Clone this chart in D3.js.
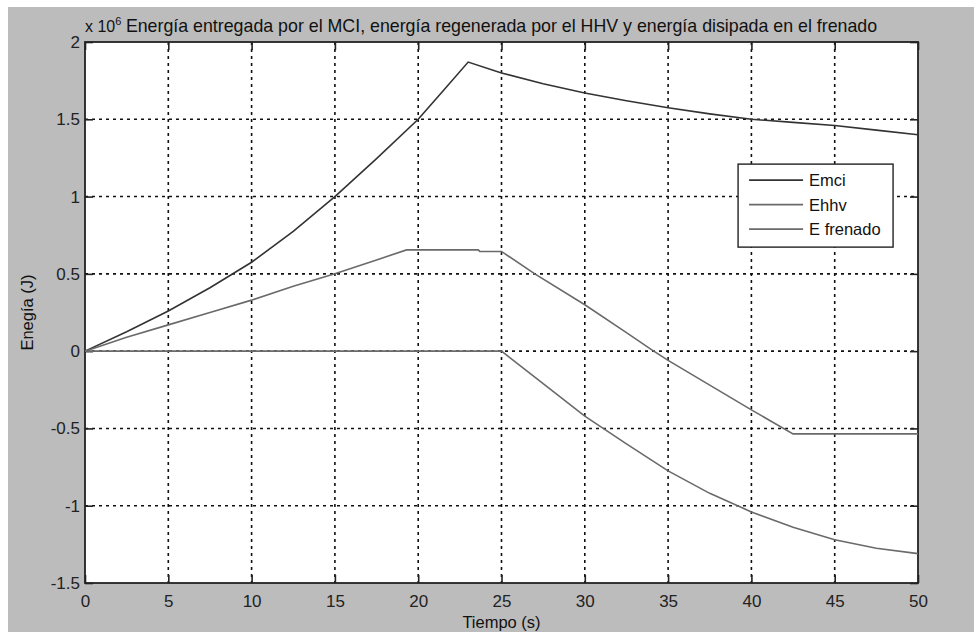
<!DOCTYPE html>
<html>
<head>
<meta charset="utf-8">
<script src="https://cdn.jsdelivr.net/npm/d3@7"></script>
<style>
  body { margin: 0; background: #fff; }
  svg { display: block; font-family: "Liberation Sans", Arial, sans-serif; }
</style>
</head>
<body>
<div id="chart"></div>
<script>
// values (time in s, energy in 1e6 J)
const tEmci = [0, 2.5, 5, 7.5, 10, 12.5, 15, 17.5, 20, 21.5, 23, 25, 27.5, 30, 32.5, 35, 37.5, 40, 42.5, 45, 47.5, 50];
const vEmci = [0, 0.125, 0.26, 0.41, 0.575, 0.775, 1.0, 1.245, 1.50, 1.685, 1.87, 1.80, 1.73, 1.67, 1.62, 1.575, 1.535, 1.50, 1.48, 1.46, 1.43, 1.40];
const tEhhv = [0, 2.5, 5, 7.5, 10, 12.5, 15, 17.5, 19.3, 23.6, 23.7, 25, 27, 30, 32.5, 34, 35, 37.5, 40, 42.5, 50];
const vEhhv = [0, 0.09, 0.17, 0.25, 0.33, 0.42, 0.50, 0.59, 0.655, 0.655, 0.645, 0.645, 0.50, 0.30, 0.12, 0.01, -0.06, -0.22, -0.38, -0.535, -0.535];
const tFren = [0, 25, 27.5, 30, 32.5, 35, 37.5, 40, 42.5, 45, 47.5, 50];
const vFren = [0, 0, -0.21, -0.42, -0.60, -0.775, -0.92, -1.04, -1.14, -1.22, -1.275, -1.31];
const xTicks = [0, 5, 10, 15, 20, 25, 30, 35, 40, 45, 50];
const yTicks = [-1.5, -1, -0.5, 0, 0.5, 1, 1.5, 2];
const seriesNames = ["Emci", "Ehhv", "E frenado"];

const W = 974, H = 632;
const margin = { top: 42, right: 56, bottom: 49, left: 85 };
const width = W - margin.left - margin.right,
  height = H - margin.top - margin.bottom;

const svg = d3.select("#chart").append("svg")
  .attr("width", W).attr("height", H);

// grey figure background
svg.append("rect").attr("x", 8).attr("y", 7).attr("width", W - 8).attr("height", H - 7)
  .attr("fill", "#bcbcbc");

const g = svg.append("g").attr("transform", `translate(${margin.left},${margin.top})`);

const x = d3.scaleLinear().domain([0, 50]).range([0, width]);
const y = d3.scaleLinear().domain([-1.5, 2]).range([height, 0]);

g.append("rect").attr("width", width).attr("height", height).attr("fill", "#fff");

// grid
g.selectAll(".gx").data(xTicks.slice(1, -1)).enter().append("line")
  .attr("x1", d => x(d)).attr("x2", d => x(d)).attr("y1", 0).attr("y2", height)
  .attr("stroke", "#111").attr("stroke-width", 1.6).attr("stroke-dasharray", "3,4");
g.selectAll(".gy").data(yTicks.slice(1, -1)).enter().append("line")
  .attr("y1", d => y(d)).attr("y2", d => y(d)).attr("x1", 0).attr("x2", width)
  .attr("stroke", "#111").attr("stroke-width", 1.6).attr("stroke-dasharray", "3,4");

// axes with inward ticks
const tickFmt = d => String(d);
g.append("g").attr("transform", `translate(0,${height})`)
  .call(d3.axisBottom(x).tickValues(xTicks).tickSizeInner(-8).tickSizeOuter(0).tickPadding(12).tickFormat(tickFmt));
g.append("g")
  .call(d3.axisTop(x).tickValues(xTicks).tickSizeInner(-8).tickSizeOuter(0).tickFormat(""));
g.append("g")
  .call(d3.axisLeft(y).tickValues(yTicks).tickSizeInner(-8).tickSizeOuter(0).tickPadding(5).tickFormat(tickFmt));
g.append("g").attr("transform", `translate(${width},0)`)
  .call(d3.axisRight(y).tickValues(yTicks).tickSizeInner(-8).tickSizeOuter(0).tickFormat(""));
g.selectAll(".domain").remove();
g.selectAll(".tick line").attr("stroke", "#222").attr("stroke-width", 1.6);
g.selectAll(".tick text").attr("fill", "#222").style("font-size", "17px");

// frame
g.append("rect").attr("width", width).attr("height", height)
  .attr("fill", "none").attr("stroke", "#222").attr("stroke-width", 1.8);

// lines
const series = [
  { t: tEmci, v: vEmci, color: "#333" },
  { t: tEhhv, v: vEhhv, color: "#6a6a6a" },
  { t: tFren, v: vFren, color: "#6a6a6a" }
];
const line = d3.line().x(d => x(d[0])).y(d => y(d[1]));
series.forEach(s => {
  g.append("path").datum(s.t.map((t, i) => [t, s.v[i]]))
    .attr("d", line).attr("fill", "none")
    .attr("stroke", s.color).attr("stroke-width", 1.6);
});

// legend
const lg = g.append("g").attr("transform", `translate(${x(39.2)},${y(1.21)})`);
lg.append("rect").attr("width", 155).attr("height", 83)
  .attr("fill", "#fff").attr("stroke", "#222").attr("stroke-width", 1.4);
seriesNames.forEach((n, i) => {
  const yy = 16 + i * 24.5;
  lg.append("line").attr("x1", 11).attr("x2", 65).attr("y1", yy).attr("y2", yy)
    .attr("stroke", series[i].color).attr("stroke-width", 1.6);
  lg.append("text").attr("x", 71).attr("y", yy + 6).text(n)
    .attr("fill", "#111").style("font-size", "16.5px");
});

// exponent and title
const expo = svg.append("text").attr("x", margin.left).attr("y", 32)
  .attr("fill", "#111").style("font-size", "16px");
expo.append("tspan").text("x 10");
expo.append("tspan").attr("dy", -7).style("font-size", "11px").text("6");
svg.append("text").attr("x", margin.left + width / 2).attr("y", 32)
  .attr("text-anchor", "middle").attr("fill", "#111").style("font-size", "17.8px")
  .text("Energía entregada por el MCI, energía regenerada por el HHV y energía disipada en el frenado");

// axis labels
svg.append("text").attr("x", margin.left + width / 2).attr("y", 628)
  .attr("text-anchor", "middle").attr("fill", "#111").style("font-size", "16.5px").text("Tiempo (s)");
svg.append("text").attr("transform", `translate(33,${margin.top + height / 2}) rotate(-90)`)
  .attr("text-anchor", "middle").attr("fill", "#111").style("font-size", "16.5px").text("Enegía (J)");
</script>
</body>
</html>
